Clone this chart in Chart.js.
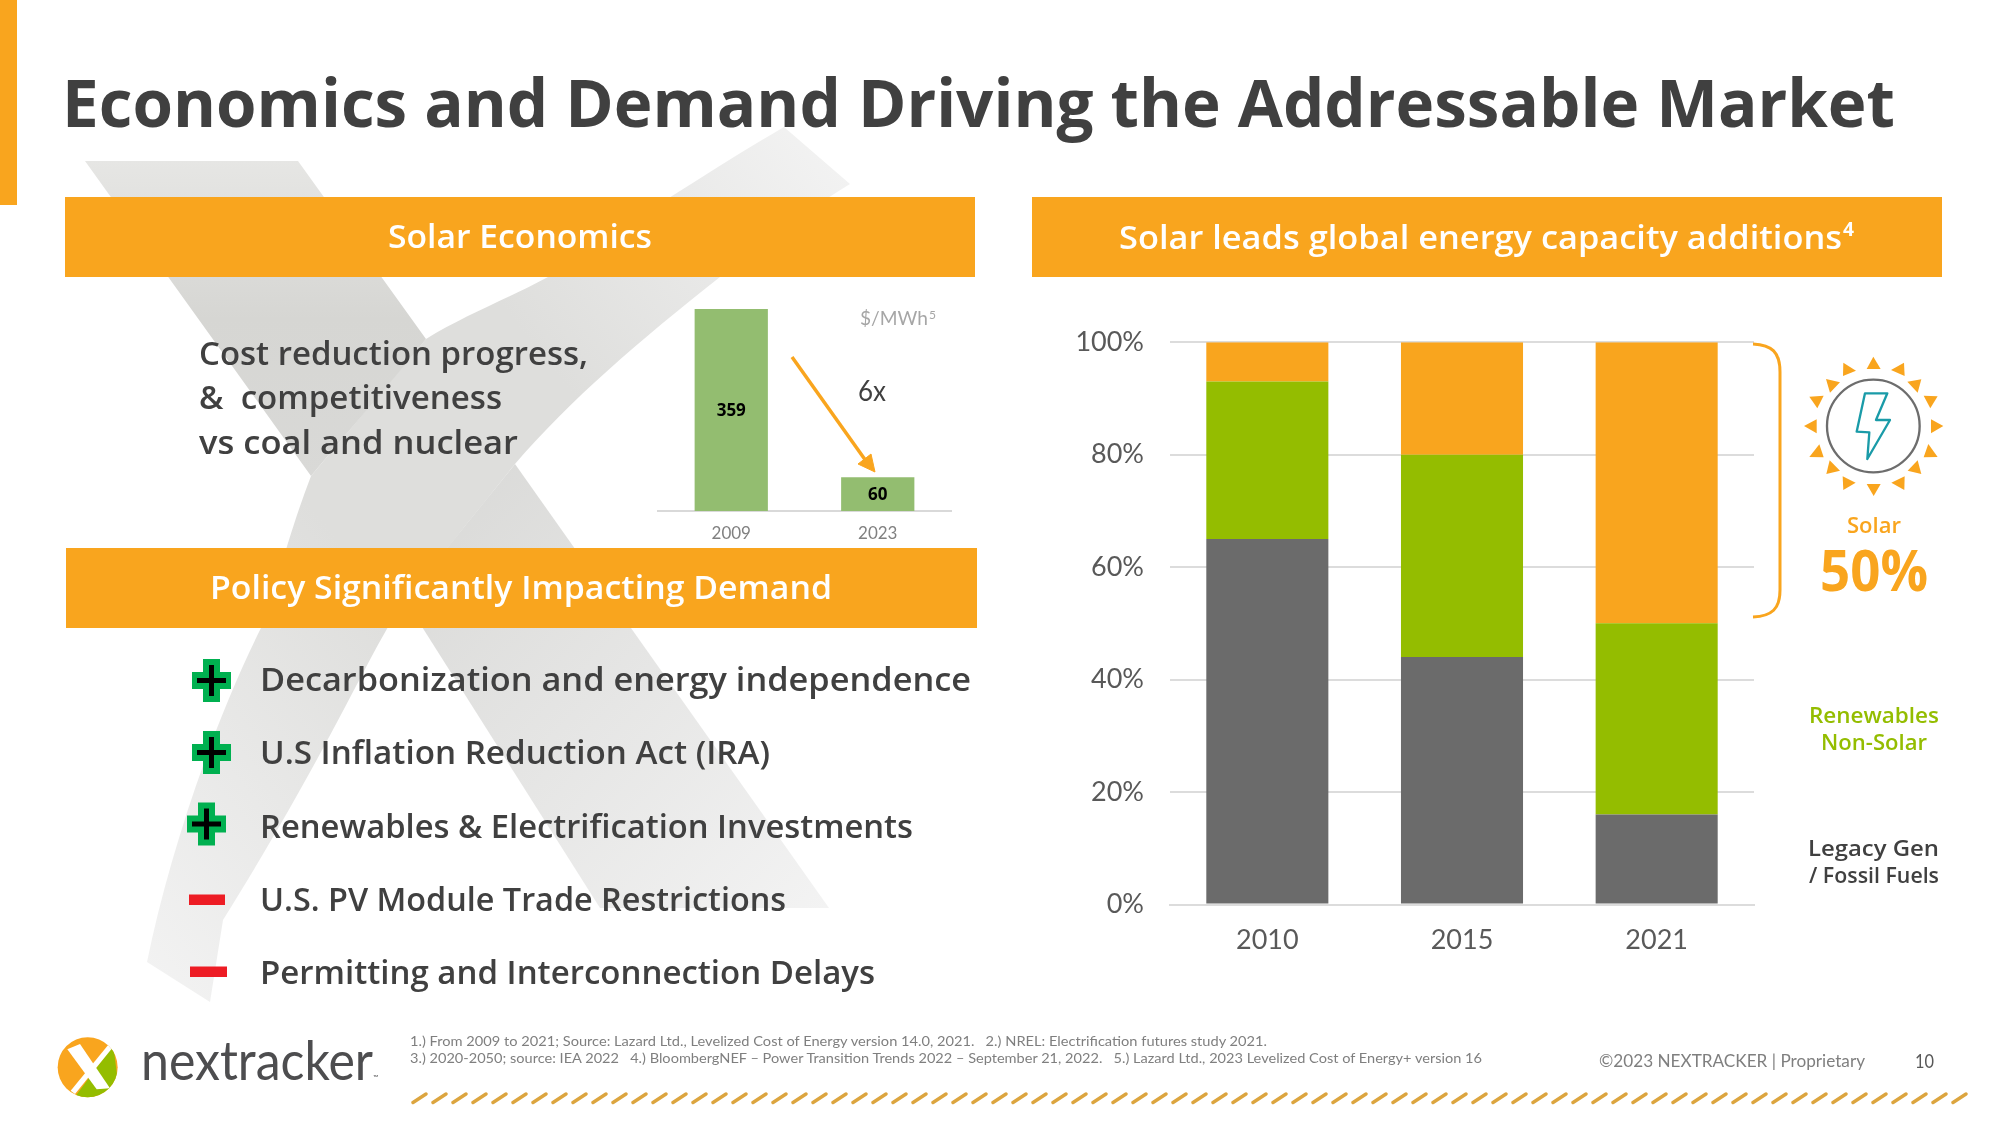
<!DOCTYPE html>
<html>
<head>
<meta charset="utf-8">
<title>Economics and Demand Driving the Addressable Market</title>
<script src="https://cdn.jsdelivr.net/npm/chart.js@4"></script>
<style>
  html, body { margin: 0; padding: 0; background: #fff; }
  #slide { position: relative; width: 2000px; height: 1125px; overflow: hidden; }
  #slide svg, #slide canvas { position: absolute; }
  #back { left: 0; top: 0; z-index: 0; }
  #costChart { left: 640px; top: 300px; z-index: 1; }
  #mixChart { left: 1060px; top: 300px; z-index: 1; }
  #front { left: 0; top: 0; z-index: 2; }
</style>
</head>
<body>
<div id="slide">
  <svg id="back" width="2000" height="1125">
    <defs>
      <linearGradient id="armA" x1="0" y1="0" x2="0" y2="1">
        <stop offset="0" stop-color="#e6e6e4"/>
        <stop offset="0.5" stop-color="#d6d6d3"/>
        <stop offset="1" stop-color="#d9d9d7"/>
      </linearGradient>
      <linearGradient id="armB" x1="1" y1="0" x2="0" y2="1">
        <stop offset="0" stop-color="#f4f4f4"/>
        <stop offset="0.35" stop-color="#dededc"/>
        <stop offset="0.6" stop-color="#dededc"/>
        <stop offset="1" stop-color="#f3f3f3"/>
      </linearGradient>
      <linearGradient id="armC" x1="0" y1="0" x2="1" y2="1">
        <stop offset="0" stop-color="#d8d8d6"/>
        <stop offset="1" stop-color="#f3f3f3"/>
      </linearGradient>
      <pattern id="hatch" x="411" y="1090" width="20" height="16" patternUnits="userSpaceOnUse">
        <line x1="2" y1="12.5" x2="15" y2="4" stroke="#dca53f" stroke-width="3.4" stroke-linecap="round"/>
      </pattern>
    </defs>
    <!-- faded X behind the left column -->
    <path fill="url(#armB)" d="M784 127 L850 184 C800 215 760 245 720 277 C640 340 570 400 515 464 C470 520 430 570 405 600 C370 650 335 740 223 920 L210 1002 L147 962 C170 850 215 720 261 628 C275 590 290 530 311 476 L426 339 C465 315 505 300 548 277 C620 230 710 170 784 127 Z"/>
    <path fill="url(#armC)" d="M405 600 L515 464 L829 908 L600 908 Z"/>
    <path fill="url(#armA)" d="M85 161 L298 161 L426 339 C385 390 345 435 311 476 Z"/>
    <rect x="0" y="0" width="17" height="205" fill="#f9a51e"/>
    <rect x="65" y="197" width="910" height="80" fill="#f9a51e"/>
    <rect x="66" y="548" width="911" height="80" fill="#f9a51e"/>
    <rect x="1032" y="197" width="910" height="80" fill="#f9a51e"/>
  </svg>
  <canvas id="costChart" width="330" height="250"></canvas>
  <canvas id="mixChart" width="720" height="672"></canvas>
  <svg id="front" width="2000" height="1125"></svg>
</div>

<script>
// Solar LCOE bars ($/MWh)
const costYears = ["2009", "2023"];
const costValues = [359, 60];

// Global capacity additions (%)
const mixYears = ["2010", "2015", "2021"];
const legacyShare = [65, 44, 16];
const renewableShare = [28, 36, 34];
const solarShare = [7, 20, 50];
const yTickLabels = ["0%", "20%", "40%", "60%", "80%", "100%"];

const ORANGE = "#f9a51e";
const GREEN = "#94bd00";
const GRAY = "#6b6b6b";
const DARK = "#404040";
const SANS = "'Open Sans'";
const THIN = "Lato";

// Prints the value in the middle of each bar
const barValues = {
  id: "barValues",
  afterDatasetsDraw(chart) {
    const ctx = chart.ctx;
    const meta = chart.getDatasetMeta(0);
    ctx.save();
    ctx.font = "700 17px " + SANS;
    ctx.fillStyle = "#000";
    ctx.textAlign = "center";
    ctx.textBaseline = "middle";
    meta.data.forEach((bar, i) => {
      ctx.fillText(costValues[i], bar.x, (bar.y + bar.base) / 2 + 1);
    });
    ctx.restore();
  }
};

new Chart(document.getElementById("costChart"), {
  type: "bar",
  data: {
    labels: costYears,
    datasets: [{ data: costValues, backgroundColor: "#93bd70", barPercentage: 0.5, categoryPercentage: 1 }]
  },
  options: {
    responsive: false,
    animation: false,
    layout: { autoPadding: false, padding: { left: 18, right: 19, top: 9 } },
    plugins: { legend: { display: false }, tooltip: { enabled: false } },
    scales: {
      y: { display: false, min: 0, max: 359 },
      x: {
        afterFit: s => { s.height = 39; },
        grid: { display: false },
        border: { color: "#d9d9d9", width: 2 },
        ticks: { color: "#808080", font: { family: THIN, size: 17 }, padding: 4, maxRotation: 0 }
      }
    }
  },
  plugins: [barValues]
});

new Chart(document.getElementById("mixChart"), {
  type: "bar",
  data: {
    labels: mixYears,
    datasets: [
      { label: "Legacy Gen / Fossil Fuels", data: legacyShare, backgroundColor: GRAY },
      { label: "Renewables Non-Solar", data: renewableShare, backgroundColor: GREEN },
      { label: "Solar", data: solarShare, backgroundColor: ORANGE }
    ]
  },
  options: {
    responsive: false,
    animation: false,
    datasets: { bar: { barPercentage: 0.627, categoryPercentage: 1 } },
    layout: { autoPadding: false, padding: { top: 20, right: 26 } },
    plugins: { legend: { display: false }, tooltip: { enabled: false } },
    scales: {
      x: {
        stacked: true,
        afterFit: s => { s.height = 67.5; },
        grid: { display: false },
        border: { color: "#dcdcdc", width: 2 },
        ticks: { color: "#595959", font: { family: THIN, size: 27 }, padding: 12, maxRotation: 0 }
      },
      y: {
        stacked: true,
        min: 0,
        max: 100,
        afterFit: s => { s.width = 110; },
        grid: { color: "#dcdcdc", lineWidth: 2, drawTicks: false },
        border: { display: false },
        ticks: {
          stepSize: 20,
          padding: 26,
          color: "#595959",
          font: { family: THIN, size: 27 },
          callback: (v, i) => yTickLabels[i]
        }
      }
    }
  }
});

// Slide text and decorations go in the front svg
const NS = "http://www.w3.org/2000/svg";
const front = document.getElementById("front");

function add(tag, attrs, parent) {
  const el = document.createElementNS(NS, tag);
  Object.keys(attrs).forEach(k => el.setAttribute(k, attrs[k]));
  (parent || front).appendChild(el);
  return el;
}

// [text, left, baseline, width, size, weight, colour, family]
const slideText = [
  ["Economics and Demand Driving the Addressable Market", 62, 127, 1833, 67, 700, DARK, SANS],
  ["Solar Economics", 388, 248, 264, 32, 600, "#fff", SANS],
  ["Policy Significantly Impacting Demand", 210, 599, 622, 32, 600, "#fff", SANS],
  ["Solar leads global energy capacity additions", 1119, 249, 723, 32, 600, "#fff", SANS],
  ["4", 1843, 236, 11, 19, 700, "#fff", SANS],
  ["Cost reduction progress,", 199, 365, 389, 32, 600, DARK, SANS],
  ["&  competitiveness", 199, 409, 303, 32, 600, DARK, SANS],
  ["vs coal and nuclear", 199, 454, 319, 32, 600, DARK, SANS],
  ["$/MWh", 860, 325, 68, 20, 400, "#a6a6a6", THIN],
  ["5", 929, 319, 7, 12, 400, "#a6a6a6", THIN],
  ["6x", 858, 401, 28, 28, 400, DARK, THIN],
  ["Decarbonization and energy independence", 260, 691, 711, 32, 600, DARK, SANS],
  ["U.S Inflation Reduction Act (IRA)", 260, 764, 510, 32, 600, DARK, SANS],
  ["Renewables & Electrification Investments", 260, 838, 653, 32, 600, DARK, SANS],
  ["U.S. PV Module Trade Restrictions", 260, 911, 526, 32, 600, DARK, SANS],
  ["Permitting and Interconnection Delays", 260, 984, 615, 32, 600, DARK, SANS],
  ["Solar", 1847, 533, 54, 22, 600, ORANGE, SANS],
  ["50%", 1820, 591, 108, 57, 700, ORANGE, SANS],
  ["Renewables", 1809, 723, 130, 22, 600, GREEN, SANS],
  ["Non-Solar", 1821, 750, 106, 22, 600, GREEN, SANS],
  ["Legacy Gen", 1808, 856, 131, 22, 600, DARK, SANS],
  ["/ Fossil Fuels", 1809, 883, 130, 22, 600, DARK, SANS],
  ["1.) From 2009 to 2021; Source: Lazard Ltd., Levelized Cost of Energy version 14.0, 2021.   2.) NREL: Electrification futures study 2021.", 410, 1046, 857, 14, 400, "#7f7f7f", THIN],
  ["3.) 2020-2050; source: IEA 2022   4.) BloombergNEF – Power Transition Trends 2022 – September 21, 2022.   5.) Lazard Ltd., 2023 Levelized Cost of Energy+ version 16", 410, 1063, 1072, 14, 400, "#7f7f7f", THIN],
  ["©2023 NEXTRACKER | Proprietary", 1599, 1067, 266, 17, 400, "#7f7f7f", THIN],
  ["10", 1915, 1068, 19, 19, 400, "#595959", THIN],
  ["nextracker", 141, 1080, 232, 54, 400, "#4d4d4f", THIN]
];

slideText.forEach(t => {
  const el = add("text", {
    x: t[1], y: t[2], textLength: t[3], lengthAdjust: "spacingAndGlyphs",
    "font-size": t[4], "font-weight": t[5], fill: t[6], "font-family": t[7]
  });
  el.style.whiteSpace = "pre";
  el.textContent = t[0];
});

// 6x arrow
add("line", { x1: 792, y1: 357, x2: 866, y2: 461, stroke: ORANGE, "stroke-width": 3.5 });
add("polygon", { points: "875,472 858,464 871,454", fill: ORANGE, stroke: ORANGE, "stroke-width": 1 });

// Brace next to the 2021 solar segment
add("path", {
  d: "M1753 344 C1772 345 1780 352 1780 372 L1780 590 C1780 609 1772 616 1753 617",
  fill: "none", stroke: ORANGE, "stroke-width": 3
});

// Sun icon, outlined from the reference
const sun = add("g", { transform: "translate(1780,340) scale(0.3333)" });
const rays = [
  "280,50 302,87 260,87", "333,90 372,68 374,108", "382,125 424,118 413,158", "431,167 473,169 451,205",
  "453,238 490,258 453,280", "445,312 473,351 431,352", "413,361 424,402 383,392", "374,409 373,450 334,428",
  "260,432 302,432 281,468", "188,409 227,428 190,450", "149,361 180,392 139,402", "118,313 131,352 88,351",
  "110,238 110,280 72,258", "88,170 131,167 112,205", "138,117 180,127 150,158", "190,68 228,92 189,108"
];
rays.forEach(p => add("polygon", { points: p, fill: ORANGE }, sun));
add("circle", { cx: 280, cy: 258, r: 139, fill: "#fff", stroke: "#6d6d6d", "stroke-width": 7 }, sun);
add("path", {
  d: "M255 160 L322 160 L288 240 L330 240 L262 357 L268 277 L230 275 Z",
  fill: "none", stroke: "#1a9ba8", "stroke-width": 7, "stroke-linejoin": "round"
}, sun);

// Plus and minus markers
function plus(cx, cy) {
  add("path", { fill: "#00b050", d: `M${cx-8.5} ${cy-21.5}h17v13h11v17h-11v13h-17v-13h-11v-17h11z` });
  add("path", { fill: "#000", d: `M${cx-2.5} ${cy-15.5}h5v13h12v5h-12v13h-5v-13h-12v-5h12z` });
}
plus(211.5, 680.5);
plus(211.5, 752.5);
plus(206.5, 824);
add("rect", { x: 189, y: 894.5, width: 36, height: 10.5, fill: "#ed1c24" });
add("rect", { x: 190, y: 966.5, width: 37, height: 10.5, fill: "#ed1c24" });

// Logo mark
const logo = add("g", { transform: "translate(30,1020) scale(0.3333)" });
const clip = add("clipPath", { id: "logoClip" }, logo);
add("circle", { cx: 173, cy: 142, r: 90 }, clip);
const mark = add("g", { "clip-path": "url(#logoClip)" }, logo);
add("rect", { x: 80, y: 50, width: 190, height: 190, fill: "#f9a51e" }, mark);
add("polygon", { points: "250,75 270,240 128,240", fill: "#94bd00" }, mark);
add("polygon", { points: "240,68 250,80 135,222 122,212", fill: "#fff" }, mark);
add("polygon", { points: "112,88 150,72 240,205 200,208", fill: "#fff" }, mark);
const tm = add("text", { x: 373, y: 1080, "font-size": 7, fill: "#4d4d4f", "font-family": THIN });
tm.textContent = "™";

// Hatched strip along the footer
add("rect", { x: 411, y: 1090, width: 1560, height: 16, fill: "url(#hatch)" });
</script>
</body>
</html>
